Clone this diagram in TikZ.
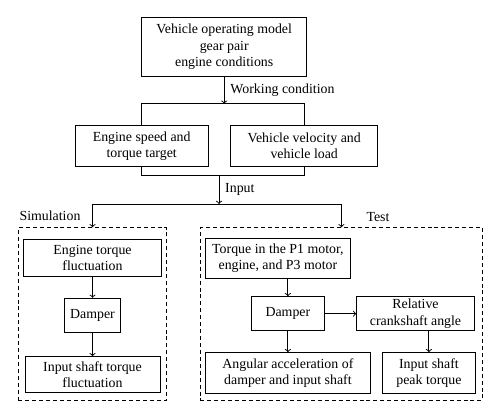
\documentclass[tikz,border=0pt]{standalone}
\usepackage{fontspec}
\setmainfont{Liberation Serif}
\begin{document}
\begin{tikzpicture}[x=0.75pt,y=-0.75pt,line width=0.7pt,
  font=\fontsize{10.4}{12.2}\selectfont,
  box/.style={draw,inner sep=0pt,align=center},
  frame/.style={draw,dashed,dash pattern=on 3pt off 2.2pt,inner sep=0pt}]
\useasboundingbox (0,0) rectangle (500,418);

\node[box,minimum width=123.8pt,minimum height=43.7pt] (model) at (224.2,46.9) {Vehicle operating model\\gear pair\\engine conditions};
\node[box,minimum width=100pt,minimum height=30.5pt] (speed) at (141.7,146) {Engine speed and\\torque target};
\node[box,minimum width=110.3pt,minimum height=30.5pt] (velocity) at (304.2,146) {Vehicle velocity and\\vehicle load};

\coordinate (upbar) at (224.2,103.7);
\coordinate (lowbar) at (219,175.7);
\coordinate (split) at (219,204);

\draw[->] (model) -- (upbar) node[midway,right,xshift=1pt]{Working condition};
\draw (speed.north) |- (upbar) -| (velocity.north);
\draw (speed.south) |- (lowbar) -| (velocity.south);
\draw[->] (lowbar) -- (split) node[midway,right,xshift=1pt]{Input};

\node[frame,minimum width=111.3pt,minimum height=129.2pt] (simframe) at (92.5,313.9) {};
\node[frame,minimum width=212pt,minimum height=129.2pt] (testframe) at (341.4,313.9) {};
\draw[->] (split) -| (simframe.north);
\draw[->] (split) -| (testframe.north);
\node (simlabel) at (50,215.7) {Simulation};
\node (testlabel) at (378,216.7) {Test};

% simulation
\node[box,minimum width=103.3pt,minimum height=27.5pt] (engtorque) at (92.5,257.7) {Engine torque\\fluctuation};
\node[box,minimum width=41.8pt,minimum height=25.8pt] (simdamper) at (92.5,315.5) {Damper};
\node[box,minimum width=101.3pt,minimum height=27pt] (shafttorque) at (92.5,374.7) {Input shaft torque\\fluctuation};
\draw[->] (engtorque) -- (simdamper);
\draw[->] (simdamper) -- (shafttorque);

% test
\node[box,minimum width=109.3pt,minimum height=30pt] (motortorque) at (277.9,258.3) {Torque in the P1 motor,\\engine, and P3 motor};
\node[box,minimum width=54.2pt,minimum height=25.5pt] (testdamper) at (287.9,313.7) {Damper};
\node[box,minimum width=88.2pt,minimum height=25.5pt] (crankangle) at (415.5,313.7) {Relative\\crankshaft angle};
\node[box,minimum width=123.2pt,minimum height=30.5pt] (angacc) at (287.9,373) {Angular acceleration of\\damper and input shaft};
\node[box,minimum width=69.2pt,minimum height=30.5pt] (peak) at (428.9,373) {Input shaft\\peak torque};
\draw[->] (testdamper.north |- motortorque.south) -- (testdamper.north);
\draw[->] (testdamper) -- (crankangle);
\draw[->] (testdamper) -- (angacc);
\draw[->] (peak.north |- crankangle.south) -- (peak.north);
\end{tikzpicture}
\end{document}
